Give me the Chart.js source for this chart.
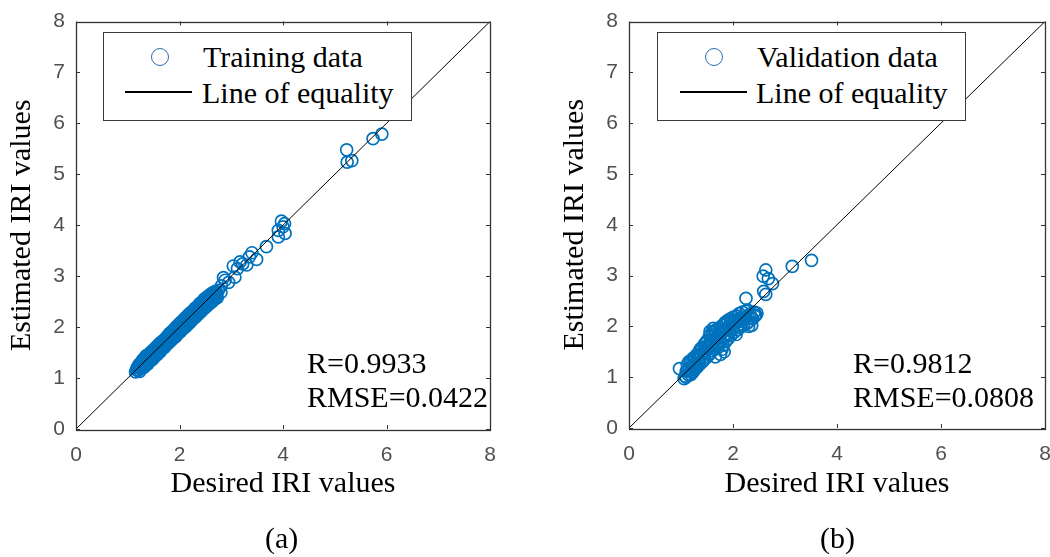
<!DOCTYPE html>
<html>
<head>
<meta charset="utf-8">
<script src="https://cdn.jsdelivr.net/npm/chart.js@4.4.0/dist/chart.umd.min.js"></script>
<style>
  html, body { margin: 0; padding: 0; background: #fff; overflow: hidden; width: 1050px; height: 557px; }
  canvas { position: absolute; top: 0; }
  #chartA { left: 0; }
  #chartB { left: 525px; }
  .txt { position: absolute; font-family: "Liberation Serif", "Times New Roman", serif; font-size: 30px; line-height: 30px; color: #000; white-space: nowrap; }
  .legend { position: absolute; top: 32px; width: 309px; height: 89px; box-sizing: border-box; border: 1px solid #3a3a3a; background: #fff; }
  .mark { position: absolute; top: 48px; width: 18px; height: 18px; box-sizing: border-box; border: 1.5px solid #2f6db3; border-radius: 50%; }
  .sample { position: absolute; top: 91px; width: 67px; height: 1.5px; background: #000; }
</style>
</head>
<body>
<canvas id="chartA" width="525" height="557"></canvas>
<canvas id="chartB" width="545" height="557"></canvas>

<div class="legend" style="left:103px"></div>
<div class="mark" style="left:151px"></div>
<div class="txt" style="left:203px; top:42px">Training data</div>
<div class="sample" style="left:125px"></div>
<div class="txt" style="left:202px; top:78px">Line of equality</div>
<div class="txt" style="left:307px; top:348px">R=0.9933</div>
<div class="txt" style="left:307px; top:382px">RMSE=0.0422</div>
<div class="txt" style="left:265px; top:523px">(a)</div>

<div class="legend" style="left:657px"></div>
<div class="mark" style="left:705px"></div>
<div class="txt" style="left:757px; top:42px">Validation data</div>
<div class="sample" style="left:680px"></div>
<div class="txt" style="left:756px; top:78px">Line of equality</div>
<div class="txt" style="left:853px; top:348px">R=0.9812</div>
<div class="txt" style="left:853px; top:382px">RMSE=0.0808</div>
<div class="txt" style="left:820px; top:523px">(b)</div>

<script>
// --- data (desired vs estimated IRI) ---
const trainDesired = [
    1.15, 1.18, 1.20, 1.22, 1.24, 1.26, 1.27, 1.29, 1.30, 1.32,
    1.33, 1.35, 1.36, 1.38, 1.39, 1.41, 1.42, 1.44, 1.45, 1.46,
    1.48, 1.49, 1.50, 1.52, 1.53, 1.55, 1.56, 1.57, 1.59, 1.60,
    1.62, 1.63, 1.64, 1.66, 1.67, 1.69, 1.70, 1.71, 1.73, 1.74,
    1.76, 1.77, 1.79, 1.80, 1.81, 1.83, 1.84, 1.86, 1.87, 1.88,
    1.90, 1.91, 1.93, 1.94, 1.96, 1.97, 1.99, 2.00, 2.02, 2.03,
    2.05, 2.06, 2.08, 2.09, 2.11, 2.12, 2.14, 2.15, 2.17, 2.18,
    2.20, 2.21, 2.23, 2.24, 2.26, 2.27, 2.29, 2.30, 2.32, 2.33,
    2.35, 2.36, 2.38, 2.39, 2.41, 2.42, 2.44, 2.45, 2.47, 2.48,
    2.50, 2.52, 2.53, 2.55, 2.57, 2.58, 2.60, 2.62, 2.63, 2.65,
    2.67, 2.69, 2.71, 2.73, 2.75,
    1.25, 1.34, 1.43, 1.51, 1.61, 1.72, 1.82, 1.92, 2.01, 2.10,
    2.19, 2.31, 2.40, 2.51, 2.61, 2.70,
    1.17, 1.21, 1.28, 1.31, 1.37, 1.40, 1.47, 1.54, 1.58, 1.65,
    1.68, 1.75, 1.78, 1.85, 1.89, 1.95, 1.98, 2.04, 2.07, 2.13,
    2.16, 2.22, 2.25, 2.28, 2.34, 2.37, 2.43, 2.46, 2.49, 2.54,
    2.56, 2.59, 2.64, 2.66, 2.72, 1.23, 1.31, 1.40, 1.47, 1.58,
    1.35,
    2.80, 2.81, 2.85, 2.88, 2.95, 3.04, 3.07, 3.12, 3.17, 3.22,
    3.30, 3.35, 3.40, 3.49, 3.68, 3.91, 3.91, 3.97, 4.00, 4.04,
    4.03, 5.23, 5.24, 5.33, 5.74, 5.91
];
const trainEstimated = [
    1.12, 1.20, 1.15, 1.27, 1.19, 1.31, 1.22, 1.36, 1.25, 1.29,
    1.40, 1.31, 1.44, 1.34, 1.28, 1.47, 1.38, 1.50, 1.41, 1.35,
    1.54, 1.45, 1.39, 1.58, 1.48, 1.51, 1.62, 1.46, 1.55, 1.66,
    1.57, 1.52, 1.70, 1.61, 1.58, 1.74, 1.64, 1.60, 1.78, 1.69,
    1.66, 1.83, 1.73, 1.70, 1.88, 1.77, 1.74, 1.92, 1.81, 1.78,
    1.96, 1.86, 1.82, 2.01, 1.90, 1.87, 2.06, 1.95, 1.91, 2.10,
    1.99, 1.96, 2.15, 2.03, 2.00, 2.19, 2.07, 2.04, 2.24, 2.12,
    2.09, 2.28, 2.16, 2.13, 2.32, 2.21, 2.18, 2.37, 2.25, 2.22,
    2.41, 2.30, 2.27, 2.46, 2.34, 2.31, 2.50, 2.39, 2.36, 2.55,
    2.43, 2.40, 2.59, 2.48, 2.45, 2.63, 2.52, 2.49, 2.67, 2.56,
    2.54, 2.70, 2.60, 2.58, 2.72,
    1.24, 1.36, 1.44, 1.53, 1.60, 1.72, 1.83, 1.93, 2.02, 2.11,
    2.18, 2.30, 2.41, 2.52, 2.60, 2.66,
    1.16, 1.23, 1.30, 1.33, 1.39, 1.37, 1.49, 1.56, 1.60, 1.64,
    1.69, 1.77, 1.79, 1.84, 1.90, 1.97, 1.99, 2.05, 2.08, 2.14,
    2.16, 2.23, 2.26, 2.29, 2.34, 2.38, 2.44, 2.46, 2.50, 2.55,
    2.58, 2.58, 2.63, 2.68, 2.69, 1.13, 1.21, 1.32, 1.40, 1.50,
    1.25,
    2.68, 2.81, 2.97, 2.92, 2.88, 3.20, 2.98, 3.15, 3.28, 3.24,
    3.22, 3.38, 3.46, 3.33, 3.58, 3.77, 3.90, 4.08, 3.97, 3.84,
    4.03, 5.48, 5.24, 5.27, 5.70, 5.79
];

const validDesired = [
    0.97, 1.06, 1.08, 1.10, 1.12, 1.14, 1.16, 1.18, 1.20, 1.22,
    1.24, 1.26, 1.28, 1.30, 1.31, 1.33, 1.35, 1.36, 1.38, 1.40,
    1.41, 1.43, 1.45, 1.46, 1.48, 1.50, 1.51, 1.53, 1.55, 1.56,
    1.58, 1.60, 1.61, 1.63, 1.65, 1.66, 1.68, 1.70, 1.71, 1.73,
    1.75, 1.76, 1.78, 1.80, 1.81, 1.83, 1.85, 1.86, 1.88, 1.90,
    1.91, 1.93, 1.95, 1.96, 1.98, 2.00, 2.02, 2.04, 2.06, 2.08,
    2.10, 2.12, 2.14, 2.16, 2.18, 2.20, 2.22, 2.25, 2.27, 2.29,
    2.31, 2.33, 2.36, 2.38, 2.41, 2.44, 2.46,
    1.15, 1.25, 1.32, 1.42, 1.52, 1.62, 1.72, 1.82, 1.92, 2.01,
    1.57, 1.67, 1.77, 1.87, 1.97, 1.47, 1.37,
    1.10, 1.13, 1.19, 1.21, 1.23, 1.27, 1.29, 1.34, 1.39, 1.44,
    1.49, 1.54, 1.59, 1.64, 1.69, 1.74, 1.79, 1.84, 1.89, 1.94,
    1.99, 2.03, 2.09, 2.13, 2.19, 2.24, 2.28, 2.35, 2.42, 1.56,
    1.62, 2.06, 2.30, 1.83,
    2.25, 2.59, 2.63, 2.58, 2.63, 2.68, 2.76, 3.14, 3.51
];
const validEstimated = [
    1.17, 0.97, 1.02, 1.12, 1.25, 1.05, 1.18, 1.32, 1.10, 1.22,
    1.38, 1.15, 1.28, 1.44, 1.20, 1.34, 1.50, 1.25, 1.40, 1.58,
    1.30, 1.46, 1.65, 1.36, 1.52, 1.72, 1.41, 1.58, 1.83, 1.47,
    1.64, 1.88, 1.52, 1.70, 1.90, 1.40, 1.76, 1.95, 1.58, 1.82,
    1.98, 1.45, 1.86, 2.02, 1.63, 1.91, 2.08, 1.70, 1.95, 2.12,
    1.76, 2.00, 2.15, 1.82, 2.04, 2.18, 1.88, 2.07, 2.20, 1.93,
    2.10, 2.25, 1.98, 2.14, 2.28, 2.02, 2.18, 2.30, 2.06, 2.21,
    2.10, 2.24, 2.02, 2.15, 2.28, 2.22, 2.26,
    1.30, 1.20, 1.40, 1.50, 1.60, 1.75, 1.66, 1.80, 1.86, 1.98,
    1.72, 1.85, 1.92, 2.05, 2.10, 1.60, 1.55,
    1.00, 1.14, 1.05, 1.30, 1.10, 1.35, 1.18, 1.28, 1.46, 1.35,
    1.68, 1.45, 1.80, 1.55, 1.62, 1.72, 1.55, 1.78, 1.85, 1.92,
    1.95, 2.12, 2.02, 2.16, 2.10, 2.16, 2.32, 2.18, 2.20, 1.90,
    1.96, 1.84, 2.00, 1.50,
    2.55, 2.69, 2.63, 2.99, 3.11, 2.94, 2.84, 3.18, 3.30
];

const equalityLine = [0, 8];
const axisMin = 0, axisMax = 8;
const xTickStep = 2, yTickStep = 1;

const BLUE = '#0072BD';
const SERIF = '"Liberation Serif", "Times New Roman", serif';
const SANS = '"Liberation Sans", Arial, sans-serif';

function toPoints(xs, ys) {
    return xs.map((x, i) => ({ x: x, y: ys[i] }));
}

// box round the plot with small inward ticks on all four sides (MATLAB look)
const frameTicks = {
    id: 'frameTicks',
    afterDatasetsDraw(chart) {
        const { ctx, chartArea: a, scales } = chart;
        const len = 4;
        ctx.save();
        ctx.strokeStyle = '#333';
        ctx.lineWidth = 1;
        ctx.beginPath();
        scales.x.ticks.forEach(t => {
            const px = Math.round(scales.x.getPixelForValue(t.value)) + 0.5;
            ctx.moveTo(px, a.bottom); ctx.lineTo(px, a.bottom - len);
            ctx.moveTo(px, a.top); ctx.lineTo(px, a.top + len);
        });
        scales.y.ticks.forEach(t => {
            const py = Math.round(scales.y.getPixelForValue(t.value)) + 0.5;
            ctx.moveTo(a.left, py); ctx.lineTo(a.left + len, py);
            ctx.moveTo(a.right, py); ctx.lineTo(a.right - len, py);
        });
        ctx.stroke();
        ctx.lineWidth = 1.3;
        ctx.strokeRect(Math.round(a.left) + 0.5, Math.round(a.top) + 0.5,
            Math.round(a.right - a.left), Math.round(a.bottom - a.top));
        ctx.restore();
    }
};

function makeChart(id, pts, pad, xHeight) {
    return new Chart(document.getElementById(id), {
        type: 'scatter',
        data: {
            datasets: [{
                type: 'line',
                data: toPoints(equalityLine, equalityLine),
                borderColor: '#000',
                borderWidth: 1,
                pointRadius: 0,
                fill: false
            }, {
                data: pts,
                pointStyle: 'circle',
                pointRadius: 6,
                pointBorderWidth: 1.7,
                pointBorderColor: BLUE,
                pointBackgroundColor: 'rgba(0,0,0,0)'
            }]
        },
        options: {
            responsive: false,
            animation: false,
            layout: { padding: pad },
            plugins: { legend: { display: false }, tooltip: { enabled: false } },
            scales: {
                x: {
                    min: axisMin, max: axisMax,
                    grid: { display: false, drawTicks: false },
                    border: { display: false },
                    ticks: { stepSize: xTickStep, padding: 16, color: '#505050', font: { family: SANS, size: 21, lineHeight: 1 } },
                    title: { display: true, text: 'Desired IRI values', color: '#000', padding: { top: 0, bottom: 55 }, font: { family: SERIF, size: 30, lineHeight: 1.2 } },
                    afterFit: s => { s.height = xHeight; }
                },
                y: {
                    min: axisMin, max: axisMax,
                    grid: { display: false, drawTicks: false },
                    border: { display: false },
                    ticks: { stepSize: yTickStep, padding: 11, color: '#505050', font: { family: SANS, size: 21, lineHeight: 1 } },
                    title: { display: true, text: 'Estimated IRI values', color: '#000', padding: { top: 4, bottom: 0 }, font: { family: SERIF, size: 30, lineHeight: 1.2 } },
                    afterFit: s => { s.width = 76; }
                }
            }
        },
        plugins: [frameTicks]
    });
}

makeChart('chartA', toPoints(trainDesired, trainEstimated), { left: 0, top: 15, right: 35, bottom: 0 }, 128);
makeChart('chartB', toPoints(validDesired, validEstimated), { left: 28, top: 11, right: 25, bottom: 0 }, 129);
</script>
</body>
</html>
